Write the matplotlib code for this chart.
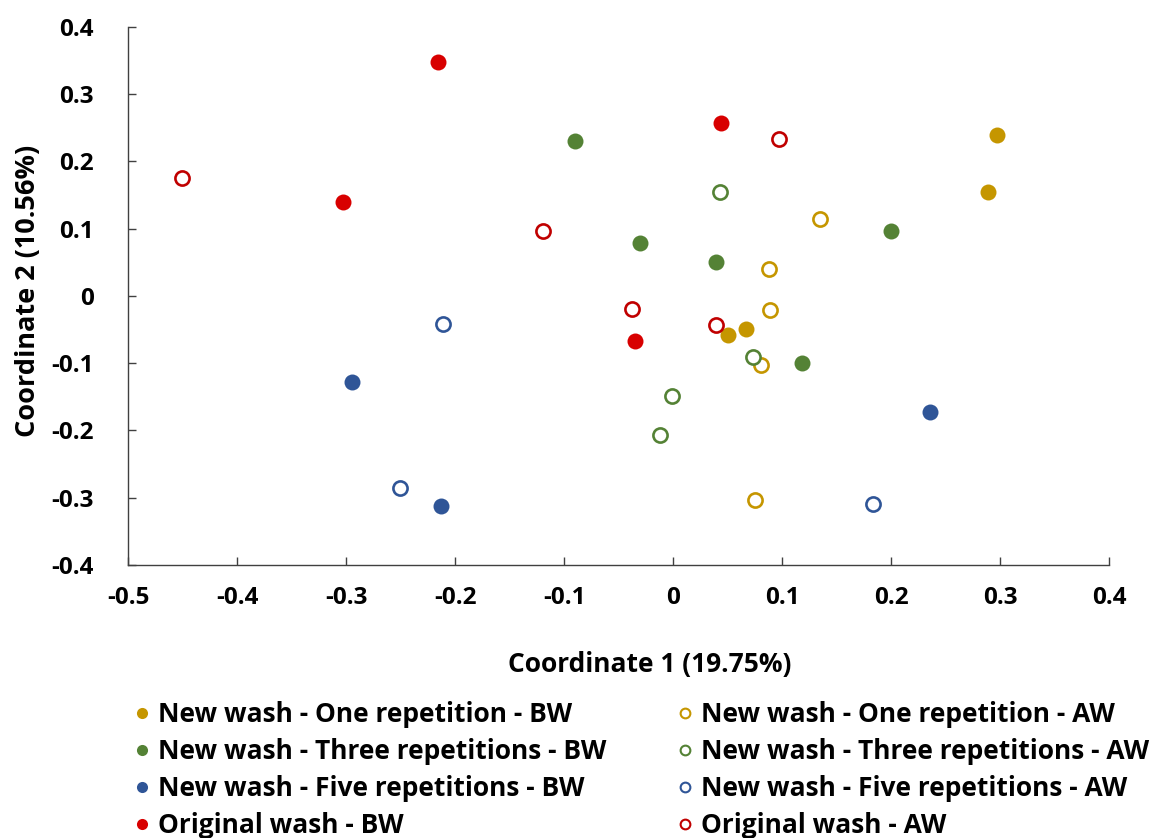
import matplotlib
matplotlib.use("Agg")
import matplotlib.pyplot as plt
from matplotlib.lines import Line2D

plt.rcParams['font.family'] = ['Open Sans', 'DejaVu Sans']
plt.rcParams['font.weight'] = 'bold'

# PCoA coordinates per group (BW = before wash, AW = after wash)
one_bw_x = [0.297, 0.289, 0.067, 0.050]
one_bw_y = [0.240, 0.155, -0.049, -0.058]
one_aw_x = [0.135, 0.088, 0.089, 0.081, 0.075]
one_aw_y = [0.115, 0.040, -0.021, -0.103, -0.303]

three_bw_x = [-0.090, -0.030, 0.039, 0.200, 0.118]
three_bw_y = [0.231, 0.079, 0.051, 0.097, -0.100]
three_aw_x = [0.043, 0.073, -0.001, -0.012]
three_aw_y = [0.155, -0.090, -0.148, -0.207]

five_bw_x = [-0.295, -0.213, 0.236]
five_bw_y = [-0.128, -0.312, -0.172]
five_aw_x = [-0.211, -0.251, 0.183]
five_aw_y = [-0.042, -0.285, -0.309]

orig_bw_x = [-0.216, -0.303, 0.044, -0.035]
orig_bw_y = [0.348, 0.140, 0.257, -0.067]
orig_aw_x = [-0.451, -0.119, 0.097, -0.038, 0.039]
orig_aw_y = [0.175, 0.097, 0.233, -0.019, -0.043]

labels_bw = ['New wash - One repetition - BW',
             'New wash - Three repetitions - BW',
             'New wash - Five repetitions - BW',
             'Original wash - BW']
labels_aw = ['New wash - One repetition - AW',
             'New wash - Three repetitions - AW',
             'New wash - Five repetitions - AW',
             'Original wash - AW']

colors = ['#C59600', '#548235', '#2F5597', '#D80000']
colors_open = ['#C59600', '#548235', '#2F5597', '#C00000']

fig = plt.figure(figsize=(11.57, 8.38), dpi=100)
ax = fig.add_axes([0.1109, 0.3258, 0.8476, 0.6420])

bw = [(one_bw_x, one_bw_y), (three_bw_x, three_bw_y),
      (five_bw_x, five_bw_y), (orig_bw_x, orig_bw_y)]
aw = [(one_aw_x, one_aw_y), (three_aw_x, three_aw_y),
      (five_aw_x, five_aw_y), (orig_aw_x, orig_aw_y)]

for (x, y), c in zip(bw, colors):
    ax.plot(x, y, 'o', ms=11.5, color=c, mec='none', zorder=3)
for (x, y), c in zip(aw, colors_open):
    ax.plot(x, y, 'o', ms=10.2, mfc='white', mec=c, mew=1.9, zorder=3)

ax.set_xlim(-0.5, 0.4)
ax.set_ylim(-0.4, 0.4)
ax.set_xticks([-0.5, -0.4, -0.3, -0.2, -0.1, 0, 0.1, 0.2, 0.3, 0.4])
ax.set_yticks([-0.4, -0.3, -0.2, -0.1, 0, 0.1, 0.2, 0.3, 0.4])
ax.set_xticklabels(['-0.5', '-0.4', '-0.3', '-0.2', '-0.1', '0', '0.1', '0.2', '0.3', '0.4'])
ax.set_yticklabels(['-0.4', '-0.3', '-0.2', '-0.1', '0', '0.1', '0.2', '0.3', '0.4'])

for side in ['top', 'right']:
    ax.spines[side].set_visible(False)
for side in ['left', 'bottom']:
    ax.spines[side].set_color('#404040')
    ax.spines[side].set_linewidth(1.0)

ax.tick_params(direction='in', length=6, width=1, color='#404040',
               labelsize=17.5, labelcolor='black')
ax.tick_params(axis='x', pad=15)
ax.tick_params(axis='y', pad=25)

ax.set_xlabel('Coordinate 1 (19.75%)', fontsize=19, fontweight='bold',
              labelpad=30, x=0.532)
ax.set_ylabel('Coordinate 2 (10.56%)', fontsize=19.5, fontweight='bold',
              labelpad=7, y=0.509)

def handles(cols, filled):
    out = []
    for c in cols:
        if filled:
            out.append(Line2D([], [], ls='none', marker='o', ms=8, color=c, mec='none'))
        else:
            out.append(Line2D([], [], ls='none', marker='o', ms=7, mfc='white', mec=c, mew=1.5))
    return out

leg_kw = dict(loc='upper left', frameon=False, handlelength=0.7,
              handletextpad=0.26, labelspacing=0.38, borderpad=0, borderaxespad=0,
              prop={'weight': 'bold', 'size': 19})
leg1 = fig.legend(handles(colors, True), labels_bw, bbox_to_anchor=(0.115, 0.163), **leg_kw)
leg2 = fig.legend(handles(colors_open, False), labels_aw, bbox_to_anchor=(0.584, 0.163), **leg_kw)

fig.savefig('out.png', dpi=100)
